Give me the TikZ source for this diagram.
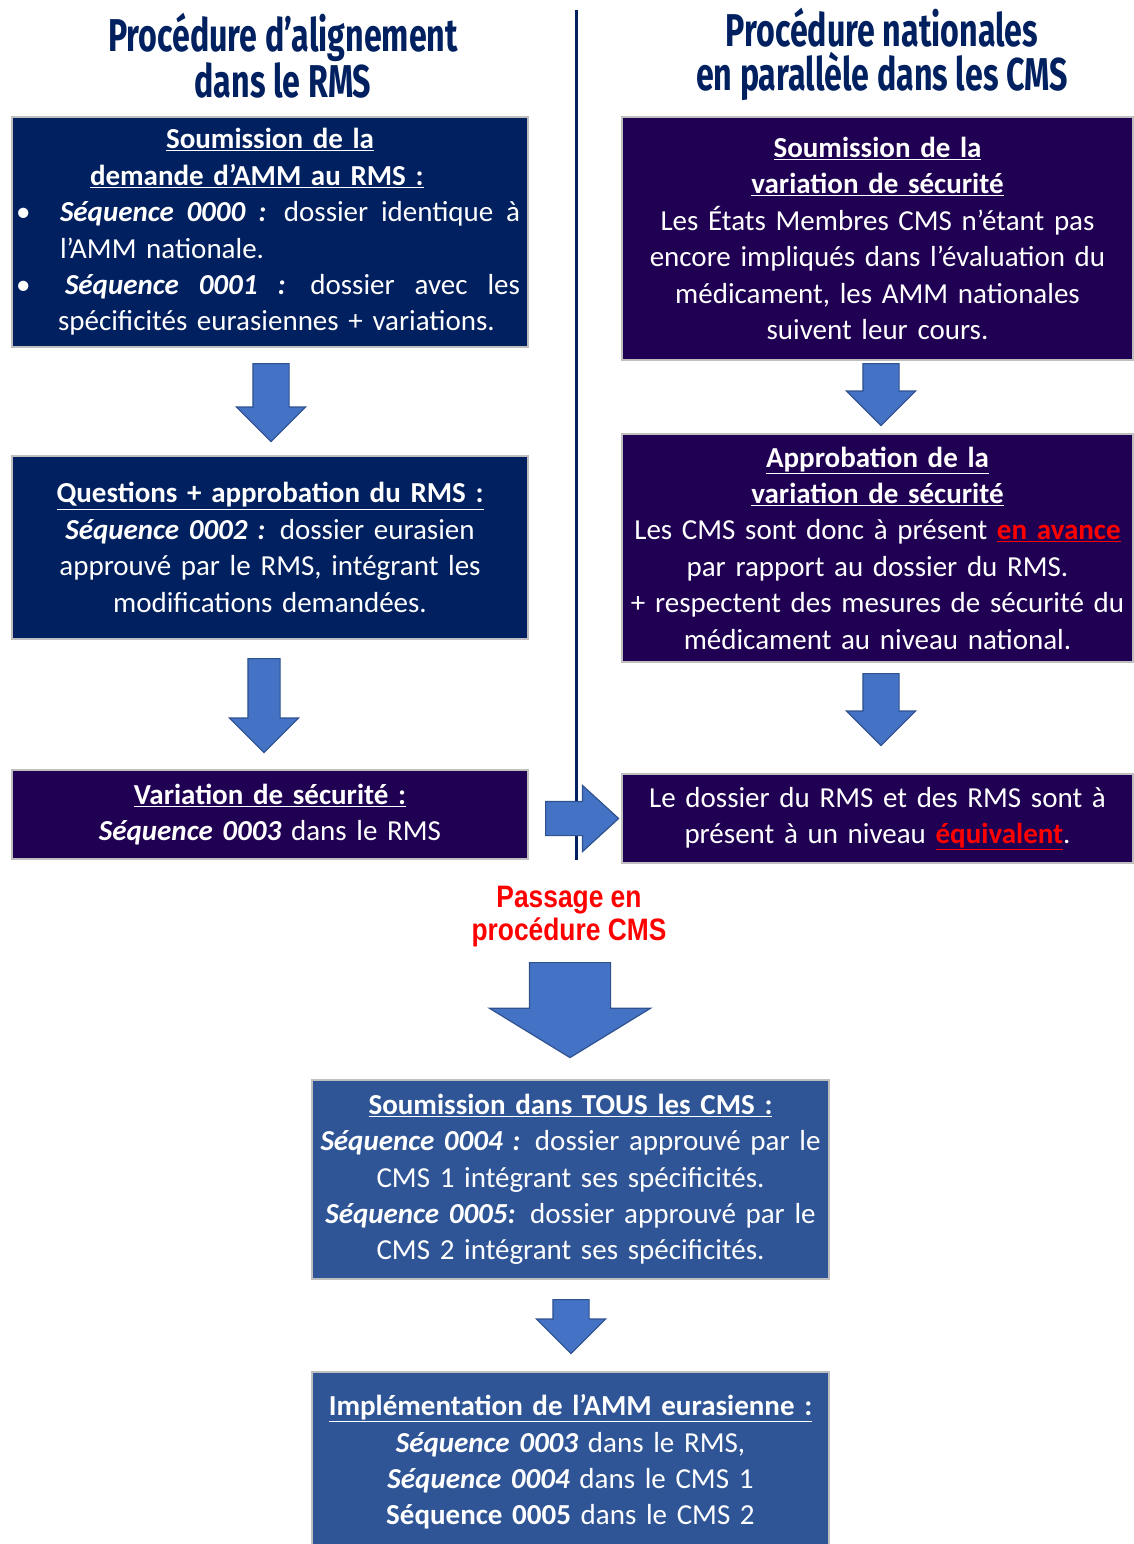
\documentclass[tikz,border=0pt]{standalone}
\usepackage{fontspec}
\setmainfont{Carlito}
\newfontfamily\titlefont[FakeStretch=0.7]{Fira Sans}
\newfontfamily\passfont[FakeStretch=0.85]{Liberation Sans}
\usetikzlibrary{shapes.arrows}
\definecolor{navy}{RGB}{0,32,96}
\definecolor{deeppurple}{RGB}{32,0,82}
\definecolor{midblue}{RGB}{47,85,151}
\definecolor{arrowblue}{RGB}{68,114,196}
\definecolor{arrowedge}{RGB}{47,82,143}
\definecolor{alertred}{RGB}{255,0,0}
\newcommand{\hdr}[1]{\textbf{\underline{#1}}}
\newcommand{\seq}[1]{\textbf{\textit{#1}}}
% one line of a bulleted, justified item
\newcommand{\itemline}[2]{\makebox[500pt][l]{\makebox[40pt][l]{#1}\hbox to 460pt{#2}}}
\newcommand{\bul}{\hspace*{-4pt}\textbullet}

\begin{document}
\begin{tikzpicture}[x=1pt,y=-1pt,
  box/.style={draw=black!25,line width=1.5pt,text=white,align=center,inner xsep=8pt,inner ysep=0pt,
    font=\fontsize{29}{36.4}\selectfont},
  leftbox/.style={box,text width=500,minimum width=516},
  rightbox/.style={box,text width=495,minimum width=511},
  lowbox/.style={box,text width=501,minimum width=517,fill=midblue},
  title/.style={text=navy,align=center,font=\titlefont\bfseries\fontsize{46}{44}\selectfont},
  blockarrow/.style={single arrow,draw=arrowedge,fill=arrowblue,line width=1.2pt,inner xsep=0pt,
    single arrow tip angle=90,anchor=tail}]
\useasboundingbox (0,0) rectangle (1133,1544);

% column titles
\node[title] (ltitle) at (283,56) {Procédure d’alignement\\dans le RMS};
\node[title] (rtitle) at (882,54) {Procédure nationales\\en parallèle dans les CMS};

% left column: RMS
\node[leftbox,fill=navy,minimum height=230] (sub) at (270,232) {%
  \hdr{Soumission de la}\\
  \makebox[500pt][l]{\hspace{70pt}\hdr{demande d’AMM au RMS :}}\\
  \itemline{\bul}{\seq{Séquence} \hfill\seq{0000} \hfill\seq{:} \hfill dossier \hfill identique \hfill à}\\
  \itemline{}{l’AMM nationale.\hfill}\\
  \itemline{\bul}{\hspace{5pt}\seq{Séquence} \hfill\seq{0001} \hfill\seq{:} \hfill dossier \hfill avec \hfill les}\\
  \makebox[500pt][l]{\hspace{38pt}spécificités eurasiennes + variations.}};
\node[leftbox,fill=navy,minimum height=183] (qa) at (270,547.5) {%
  \hdr{Questions + approbation du RMS :}\\
  \seq{Séquence 0002 :} dossier eurasien\\
  approuvé par le RMS, intégrant les\\
  modifications demandées.};
\node[leftbox,fill=deeppurple,minimum height=89] (var) at (270,814.5) {%
  \hdr{Variation de sécurité :}\\
  \seq{Séquence 0003} dans le RMS};

% right column: CMS
\node[rightbox,fill=deeppurple,minimum height=243] (subvar) at (877.5,238.5) {%
  \hdr{Soumission de la}\\\hdr{variation de sécurité}\\
  Les États Membres CMS n’étant pas\\
  encore impliqués dans l’évaluation du\\
  médicament, les AMM nationales\\
  suivent leur cours.};
\node[rightbox,fill=deeppurple,minimum height=228] (appvar) at (877.5,548) {%
  \hdr{Approbation de la}\\\hdr{variation de sécurité}\\
  Les CMS sont donc à présent \textcolor{alertred}{\hdr{en avance}}\\
  par rapport au dossier du RMS.\\
  + respectent des mesures de sécurité du\\
  médicament au niveau national.};
\node[rightbox,fill=deeppurple,minimum height=89] (equiv) at (877.5,818.5) {%
  Le dossier du RMS et des RMS sont à\\
  présent à un niveau \textcolor{alertred}{\hdr{équivalent}}.};

% separator
\coordinate (septop) at (576,10);
\coordinate (sepbot) at (576,860);
\draw[navy,line width=3pt] (septop) -- (sepbot);

% switch to CMS procedure
\node[text=alertred,align=center,font=\passfont\bfseries\fontsize{31}{33}\selectfont] (pass) at (569,917)
  {Passage en\\procédure CMS};
\node[lowbox,minimum height=199] (allcms) at (570.5,1179.5) {%
  \hdr{Soumission dans TOUS les CMS :}\\
  \seq{Séquence 0004 :} dossier approuvé par le\\
  CMS 1 intégrant ses spécificités.\\
  \seq{Séquence 0005:} dossier approuvé par le\\
  CMS 2 intégrant ses spécificités.};
\node[lowbox,minimum height=180] (impl) at (570.5,1462) {%
  \hdr{Implémentation de l’AMM eurasienne :}\\
  \seq{Séquence 0003} dans le RMS,\\
  \seq{Séquence 0004} dans le CMS 1\\
  \textbf{Séquence 0005} dans le CMS 2};

% block arrows
\node[blockarrow,rotate=-90,minimum height=78,inner ysep=17.5,single arrow head extend=16.5] (a1) at (271,363) {};
\node[blockarrow,rotate=-90,minimum height=94,inner ysep=15.5,single arrow head extend=18.5] (a2) at (264,658) {};
\node[blockarrow,rotate=-90,minimum height=62,inner ysep=17.5,single arrow head extend=16.5] (b1) at (881,363) {};
\node[blockarrow,rotate=-90,minimum height=72,inner ysep=17.5,single arrow head extend=16.5] (b2) at (881,673) {};
\node[blockarrow,single arrow tip angle=85,minimum height=73,inner ysep=16.5,single arrow head extend=16] (cross) at (545,818.5) {};
\node[blockarrow,rotate=-90,single arrow tip angle=117,minimum height=95,inner ysep=40,single arrow head extend=40] (big) at (570,962) {};
\node[blockarrow,rotate=-90,minimum height=54,inner ysep=17.5,single arrow head extend=16.5] (c1) at (571,1299) {};
\end{tikzpicture}
\end{document}
